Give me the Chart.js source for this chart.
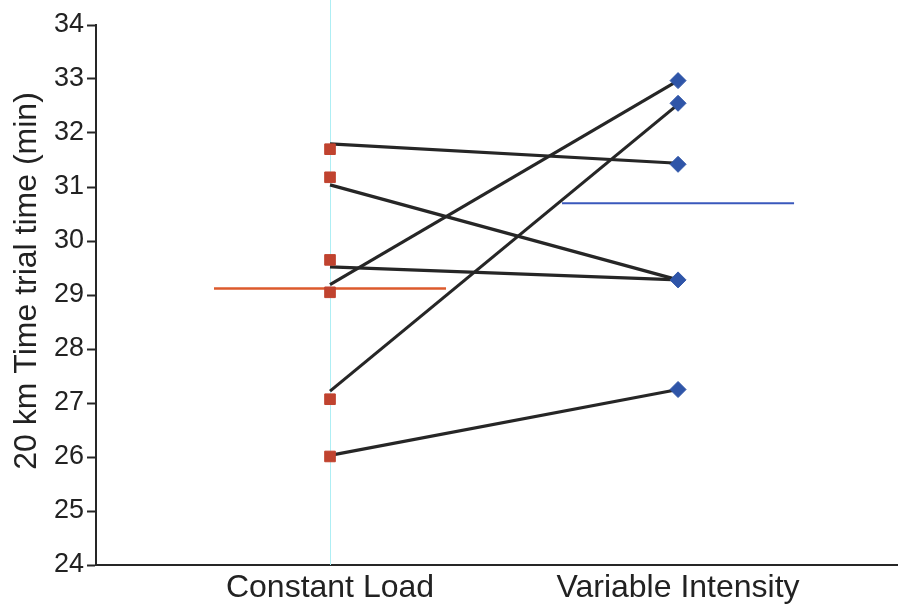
<!DOCTYPE html>
<html>
<head>
<meta charset="utf-8">
<script src="https://cdn.jsdelivr.net/npm/chart.js@4.4.1/dist/chart.umd.min.js"></script>
<style>
  html, body { margin: 0; padding: 0; background: #fff; }
  #wrap { width: 898px; height: 606px; }
</style>
</head>
<body>
<div id="wrap"><canvas id="c" width="898" height="606"></canvas></div>
<script>
// Conditions on the x axis (positions 1 and 2)
const categories = ['Constant Load', 'Variable Intensity'];

// Individual 20 km time-trial times (min)
const constantLoad = [31.70, 31.18, 29.65, 29.05, 27.07, 26.01];
const variableIntensity = [32.97, 32.55, 31.42, 29.28, 27.25];

// Paired subject lines: start (constant load) and end (variable intensity)
const pairFrom = [31.80, 31.04, 29.52, 29.19, 27.22, 26.03];
const pairTo = [31.44, 29.28, 29.28, 32.97, 32.53, 27.25];

// Group means
const meanConstant = 29.12;
const meanVariable = 30.70;

// Y axis ticks and title
const yTicks = [24, 25, 26, 27, 28, 29, 30, 31, 32, 33, 34];
const yTitle = '20 km Time trial time (min)';

const FONT = 'Liberation Sans, Arial, sans-serif';

const datasets = [];

datasets.push({
  data: constantLoad.map(v => ({ x: 1, y: v })),
  showLine: false,
  pointStyle: 'rect',
  pointRadius: 7.5,
  pointBackgroundColor: '#c0432f',
  pointBorderColor: '#c0432f',
  order: 0
});
datasets.push({
  data: variableIntensity.map(v => ({ x: 2, y: v })),
  showLine: false,
  pointStyle: 'rectRot',
  pointRadius: 8,
  pointBackgroundColor: '#2f55a8',
  pointBorderColor: '#2f55a8',
  order: 0
});

pairFrom.forEach((v, i) => {
  datasets.push({
    data: [{ x: 1, y: v }, { x: 2, y: pairTo[i] }],
    showLine: true,
    borderColor: '#262626',
    borderWidth: 3.2,
    pointRadius: 0,
    order: 1
  });
});

datasets.push({
  data: [{ x: 1 - 1/3, y: meanConstant }, { x: 1 + 1/3, y: meanConstant }],
  showLine: true,
  borderColor: '#dc5a2c',
  borderWidth: 2.5,
  pointRadius: 0,
  order: 2
});
datasets.push({
  data: [{ x: 2 - 1/3, y: meanVariable }, { x: 2 + 1/3, y: meanVariable }],
  showLine: true,
  borderColor: '#3a58bc',
  borderWidth: 2,
  pointRadius: 0,
  order: 2
});

// Thin cyan guide through the first condition, plus the rotated y title
const decorPlugin = {
  id: 'decor',
  beforeDatasetsDraw(chart) {
    const ctx = chart.ctx;
    const x = chart.scales.x.getPixelForValue(1);
    ctx.save();
    ctx.strokeStyle = '#aeeef4';
    ctx.lineWidth = 1;
    ctx.beginPath();
    ctx.moveTo(x + 0.5, 0);
    ctx.lineTo(x + 0.5, chart.chartArea.bottom);
    ctx.stroke();
    ctx.restore();
  },
  afterDraw(chart) {
    const ctx = chart.ctx;
    const ys = chart.scales.y;
    ctx.save();
    ctx.translate(27, ys.getPixelForValue(29.26));
    ctx.rotate(-Math.PI / 2);
    ctx.font = '32px ' + FONT;
    ctx.fillStyle = '#222';
    ctx.textAlign = 'center';
    ctx.textBaseline = 'middle';
    ctx.fillText(yTitle, 0, 0);
    ctx.restore();
  }
};

new Chart(document.getElementById('c'), {
  type: 'scatter',
  data: { datasets },
  plugins: [decorPlugin],
  options: {
    responsive: false,
    animation: false,
    events: [],
    layout: { autoPadding: false, padding: { top: 25, right: 0, left: 0, bottom: 0 } },
    plugins: { legend: { display: false }, tooltip: { enabled: false } },
    scales: {
      x: {
        type: 'linear',
        min: 0.3276,
        max: 2.632,
        afterBuildTicks(scale) { scale.ticks = [{ value: 1 }, { value: 2 }]; },
        afterFit(scale) { scale.height = 41; },
        grid: { display: false, drawTicks: false },
        border: { display: true, color: '#262626', width: 2 },
        ticks: {
          padding: 4,
          maxRotation: 0,
          color: '#222',
          font: { family: FONT, size: 32 },
          callback: v => categories[v - 1] || ''
        }
      },
      y: {
        min: 24,
        max: 34,
        afterBuildTicks(scale) { scale.ticks = yTicks.map(v => ({ value: v })); },
        afterFit(scale) { scale.width = 96; },
        grid: { display: true, drawOnChartArea: false, tickLength: 9, color: '#262626', tickWidth: 2 },
        border: { display: true, color: '#262626', width: 2 },
        ticks: {
          padding: 3,
          color: '#222',
          font: { family: FONT, size: 27 }
        }
      }
    }
  }
});
</script>
</body>
</html>
